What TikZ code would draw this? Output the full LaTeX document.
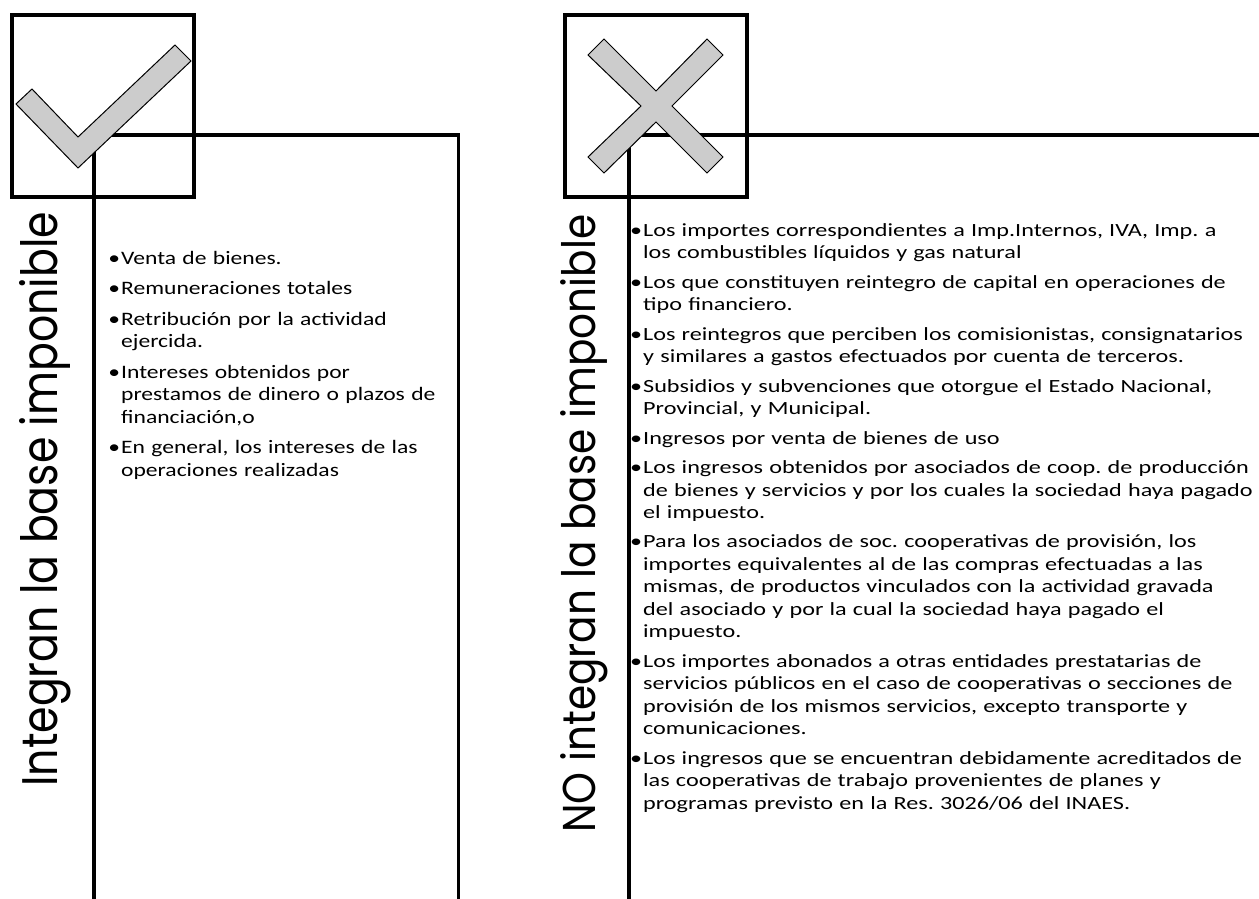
\documentclass[tikz,border=0pt]{standalone}
\usepackage{fontspec}
\usepackage{graphicx}
\setmainfont{Carlito}
\newfontfamily\titlefont{Poppins}
\newfontfamily\leftfont[FakeStretch=1.24]{Carlito}
\newfontfamily\rightfont[FakeStretch=1.3]{Carlito}
\usepackage{tikz}
\definecolor{ink}{HTML}{000000}
\definecolor{markfill}{HTML}{CCCCCC}
\tikzset{
  frame/.style={draw=ink, line width=3.6pt, line join=miter},
  sqbox/.style={draw=ink, line width=3.8pt},
  markshape/.style={draw=ink, fill=markfill, line width=1pt, line join=miter},
  title/.style={inner sep=0pt, rotate=90, anchor=base west, text=ink},
  listl/.style={inner sep=0pt, anchor=base west, align=left, text=ink, text width=335pt,
    font=\leftfont\fontsize{19}{22.5}\selectfont\frenchspacing},
  listr/.style={inner sep=0pt, anchor=base west, align=left, text=ink, text width=612pt,
    font=\rightfont\fontsize{18.6}{22.5}\selectfont\frenchspacing},
}
\newcommand{\bul}{\leavevmode\llap{•\hspace{1pt}}}

\begin{document}
\begin{tikzpicture}[x=1pt,y=-1pt]
  \useasboundingbox (0,0) rectangle (1259,899);

  % corners of the two open boxes
  \coordinate (lBL) at (93.7,905);
  \coordinate (lTL) at (93.7,135);
  \coordinate (lTR) at (458.3,135);
  \coordinate (lBR) at (458.3,905);
  \coordinate (rBL) at (629,905);
  \coordinate (rTL) at (629,135);
  \coordinate (rTR) at (1265,135);
  \draw[frame] (lBL) -- (lTL) -- (lTR) -- (lBR);
  \draw[frame] (rBL) -- (rTL) -- (rTR);

  % picture squares
  \draw[sqbox] (12,15) rectangle (194,197);
  \draw[sqbox] (565,15) rectangle (747,197);

  % check mark and cross
  \draw[markshape] (16,104) -- (32,89) -- (78,137) -- (175,45) -- (191,61) -- (78,168) -- cycle;
  \draw[markshape] (588,55) -- (604,39) -- (656,91) -- (707,39) -- (723,55) -- (672,106)
    -- (723,157) -- (707,173) -- (656,122) -- (604,173) -- (588,157) -- (641,106) -- cycle;

  % side titles
  \node[title, font=\titlefont\fontsize{50}{50}\selectfont] (intl) at (57,787)
    {\resizebox{575pt}{\height}{Integran la base imponible}};
  \node[title, font=\titlefont\fontsize{46}{46}\selectfont] (intr) at (595,833)
    {\resizebox{618pt}{\height}{NO integran la base imponible}};

  % lists
  \node[listl] (inc) at (121,264) {%
    \bul Venta de bienes.\\[8pt]
    \bul Remuneraciones totales\\[8pt]
    \bul Retribución por la actividad\\
    ejercida.\\[8pt]
    \bul Intereses obtenidos por\\
    prestamos de dinero o plazos de\\
    financiación,o\\[8pt]
    \bul En general, los intereses de las\\
    operaciones realizadas};
  \node[listr] (exc) at (643,236) {%
    \bul Los importes correspondientes a Imp.Internos, IVA, Imp. a\\
    los combustibles líquidos y gas natural\\[7pt]
    \bul Los que constituyen reintegro de capital en operaciones de\\
    tipo financiero.\\[7pt]
    \bul Los reintegros que perciben los comisionistas, consignatarios\\
    y similares a gastos efectuados por cuenta de terceros.\\[7pt]
    \bul Subsidios y subvenciones que otorgue el Estado Nacional,\\
    Provincial, y Municipal.\\[7pt]
    \bul Ingresos por venta de bienes de uso\\[7pt]
    \bul Los ingresos obtenidos por asociados de coop. de producción\\
    de bienes y servicios y por los cuales la sociedad haya pagado\\
    el impuesto.\\[7pt]
    \bul Para los asociados de soc. cooperativas de provisión, los\\
    importes equivalentes al de las compras efectuadas a las\\
    mismas, de productos vinculados con la actividad gravada\\
    del asociado y por la cual la sociedad haya pagado el\\
    impuesto.\\[7pt]
    \bul Los importes abonados a otras entidades prestatarias de\\
    servicios públicos en el caso de cooperativas o secciones de\\
    provisión de los mismos servicios, excepto transporte y\\
    comunicaciones.\\[7pt]
    \bul Los ingresos que se encuentran debidamente acreditados de\\
    las cooperativas de trabajo provenientes de planes y\\
    programas previsto en la Res. 3026/06 del INAES.};
\end{tikzpicture}
\end{document}
